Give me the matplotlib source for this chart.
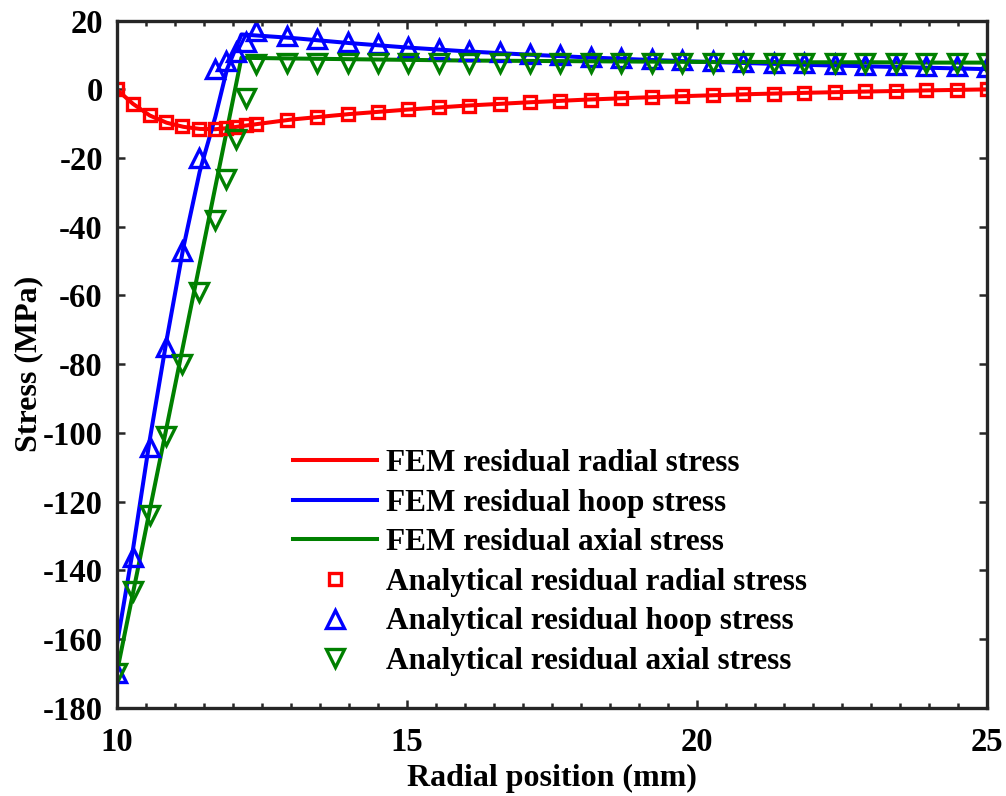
import matplotlib
matplotlib.use("Agg")
import matplotlib.pyplot as plt
from matplotlib.ticker import MultipleLocator

plt.rcParams['font.family'] = ['Liberation Serif', 'DejaVu Serif']
plt.rcParams['font.weight'] = 'bold'
plt.rcParams['axes.unicode_minus'] = False

# FEM results (lines)
x_fem = [10, 10.28, 10.57, 10.86, 11.15, 11.43, 11.7, 11.9, 12.15,
         13, 14, 15, 16, 17, 18, 19, 20, 21, 22, 23, 24, 25]
radial_fem = [0, -4.2, -7.6, -9.7, -10.9, -11.5, -11.6, -11.3, -10.7,
              -8.8, -7.2, -5.9, -4.75, -3.85, -3.05, -2.4, -1.85, -1.35, -0.95, -0.6, -0.28, 0]
hoop_fem = [-162, -134, -102, -73, -46, -24, -8, 5.8, 16.0,
            15.0, 13.5, 12.2, 11.1, 10.2, 9.4, 8.7, 8.1, 7.6, 7.1, 6.7, 6.3, 5.9]
axial_fem = [-170, -146.7, -122.5, -98.4, -74.2, -50.9, -28.4, -11.8, 9.2,
             9.0, 8.8, 8.6, 8.4, 8.3, 8.2, 8.1, 8.0, 8.0, 7.9, 7.9, 7.8, 7.8]

# analytical results (markers)
x_ana = [10.0, 10.28, 10.57, 10.85, 11.13, 11.42, 11.7, 11.88, 12.05, 12.23, 12.4,
         12.93, 13.45, 13.98, 14.5, 15.03, 15.55, 16.08, 16.6, 17.13, 17.65, 18.18,
         18.7, 19.23, 19.75, 20.28, 20.8, 21.33, 21.85, 22.38, 22.9, 23.43, 23.95, 24.48, 25.0]
radial_ana = [0, -4.2, -7.5, -9.6, -10.8, -11.4, -11.5, -11.2, -10.9, -10.5, -10.1,
              -9.0, -8.1, -7.25, -6.5, -5.85, -5.2, -4.7, -4.2, -3.7, -3.3, -2.95,
              -2.6, -2.3, -2.0, -1.7, -1.45, -1.25, -1.0, -0.8, -0.6, -0.45, -0.3, -0.15, 0.0]
hoop_ana = [-170, -136, -104, -75, -47, -20, 5.8, 8.2, 10.8, 13.7, 17.0,
            15.6, 14.7, 13.9, 13.1, 12.4, 11.8, 11.3, 10.8, 10.3, 9.9, 9.5,
            9.2, 8.9, 8.6, 8.3, 8.05, 7.8, 7.6, 7.4, 7.2, 7.05, 6.9, 6.75, 6.6]
axial_ana = [-170, -146, -124, -101, -80, -59, -38, -26, -14.5, -2.5, 7.5,
             7.6, 7.7, 7.7, 7.7, 7.7, 7.7, 7.7, 7.7, 7.7, 7.7, 7.7,
             7.7, 7.7, 7.7, 7.7, 7.7, 7.7, 7.7, 7.7, 7.7, 7.7, 7.7, 7.7, 7.7]

red = (1, 0, 0)
blue = (0, 0, 1)
green = (0, 0.5, 0)
dark = '#262626'

fig = plt.figure(figsize=(10.06, 7.96), dpi=100)
ax = fig.add_axes([0.116, 0.111, 0.865, 0.863])

ax.plot(x_fem, radial_fem, color=red, lw=2.9, label='FEM residual radial stress')
ax.plot(x_fem, hoop_fem, color=blue, lw=2.9, label='FEM residual hoop stress')
ax.plot(x_fem, axial_fem, color=green, lw=2.9, label='FEM residual axial stress')
ax.plot(x_ana, radial_ana, ls='none', marker='s', ms=9, mew=2.4, mfc='none', mec=red,
        label='Analytical residual radial stress')
ax.plot(x_ana, hoop_ana, ls='none', marker='^', ms=12.5, mew=2.4, mfc='none', mec=blue,
        label='Analytical residual hoop stress')
ax.plot(x_ana, axial_ana, ls='none', marker='v', ms=12.5, mew=2.4, mfc='none', mec=green,
        label='Analytical residual axial stress')

ax.set_xlim(10, 25)
ax.set_ylim(-180, 20)
ax.xaxis.set_major_locator(MultipleLocator(5))
ax.xaxis.set_minor_locator(MultipleLocator(0.5))
ax.yaxis.set_major_locator(MultipleLocator(20))

for s in ax.spines.values():
    s.set_linewidth(2.4)
    s.set_color(dark)
ax.tick_params(which='both', direction='in', top=True, right=True, color=dark, width=1.8,
               labelsize=23.5, labelcolor='black')
ax.tick_params(axis='x', which='both', pad=14)
ax.tick_params(axis='y', which='both', pad=10)
ax.tick_params(which='major', length=6)
ax.tick_params(which='minor', length=3.5)

ax.set_xlabel('Radial position (mm)', fontsize=23, fontweight='bold', labelpad=4)
ax.set_ylabel('Stress (MPa)', fontsize=23, fontweight='bold', labelpad=0)

ax.legend(loc='upper left', bbox_to_anchor=(0.291, 0.436), bbox_transform=fig.transFigure,
          frameon=False, fontsize=22.5, handlelength=2.7, handletextpad=0.27,
          labelspacing=0.34, borderpad=0, borderaxespad=0)

fig.savefig('out.png', dpi=100)
